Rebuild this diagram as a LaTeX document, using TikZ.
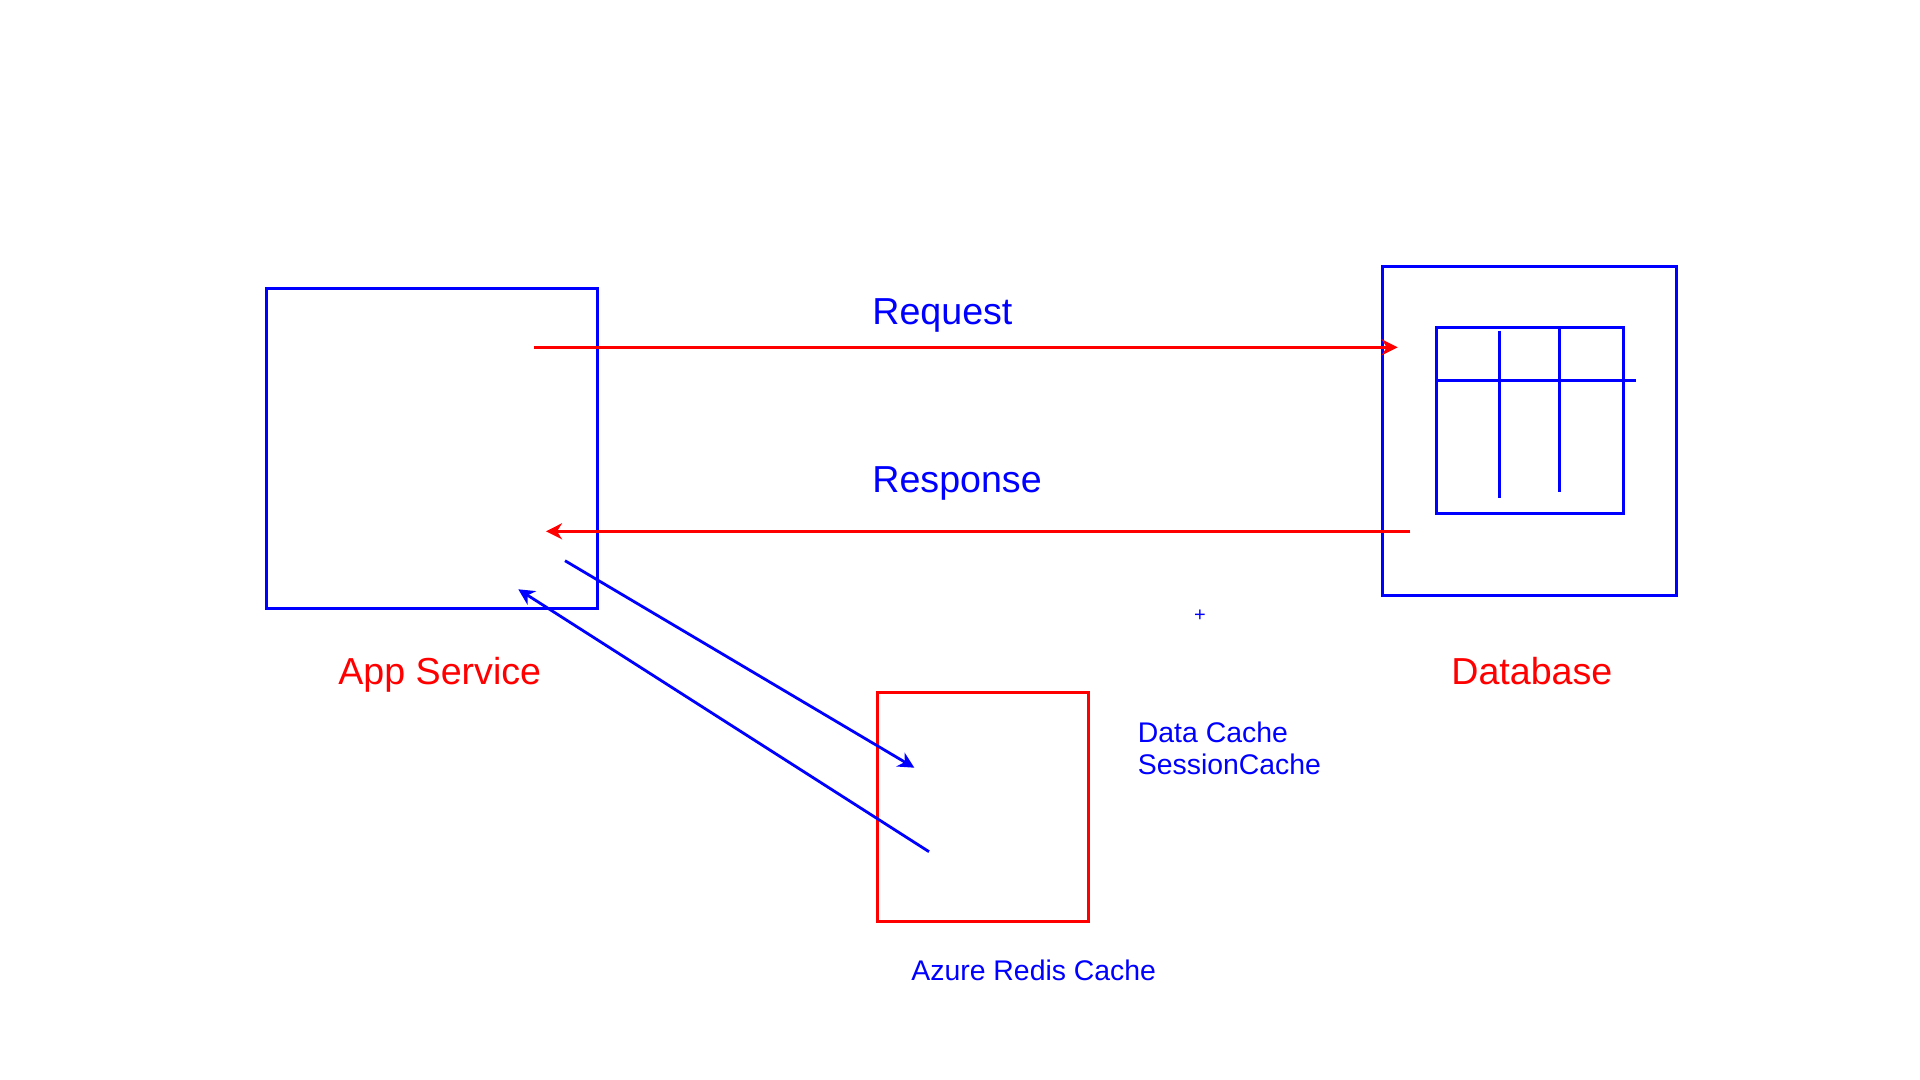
\documentclass[tikz,border=0pt]{standalone}
\usepackage{fontspec}
\setmainfont{Liberation Sans}
\usetikzlibrary{arrows.meta}
\begin{document}
\begin{tikzpicture}[
    x=0.5pt, y=-0.5pt,
    box/.style={draw=blue, line width=1.5pt, inner sep=0pt, outer sep=0pt, anchor=north west},
    cachebox/.style={box, draw=red},
    redlabel/.style={text=red, font=\fontsize{18.8}{23}\selectfont, inner sep=0pt, anchor=base west},
    bluelabel/.style={text=blue, font=\fontsize{18.8}{23}\selectfont, inner sep=0pt, anchor=base west},
    smalllabel/.style={text=blue, font=\fontsize{14.2}{16}\selectfont, inner sep=0pt, anchor=base west, align=left},
    grid line/.style={draw=blue, line width=1.5pt},
    flow/.style={draw=red, line width=1.4pt, -{Stealth[length=8pt, width=8pt, inset=2.5pt]}},
    cache flow/.style={draw=blue, line width=1.4pt, -{Stealth[length=8pt, width=8pt, inset=2.5pt]}}
    ]
    \useasboundingbox (0,0) rectangle (1920,1080);
    % boxes
    \node[box, minimum width=165.7pt, minimum height=159.7pt] (app) at (266,289) {};
    \node[box, minimum width=147pt, minimum height=164.3pt] (db) at (1382.7,266.7) {};
    \node[box, minimum width=93.3pt, minimum height=92.8pt] (table) at (1436.7,327.7) {};
    \node[cachebox, minimum width=105.4pt, minimum height=114.4pt] (redis) at (877.7,692.3) {};
    % table lines
    \coordinate (rowstart) at (1437,380.3);
    \coordinate (rowend) at (1636,380.3);
    \coordinate (cola) at (1499.3,330.7);
    \coordinate (colb) at (1499.3,498.3);
    \coordinate (colc) at (1559.3,329.5);
    \coordinate (cold) at (1559.3,492.3);
    \draw[grid line] (rowstart) -- (rowend);
    \draw[grid line] (cola) -- (colb);
    \draw[grid line] (colc) -- (cold);
    % arrows
    \coordinate (reqstart) at (534,347.3);
    \coordinate (reqend) at (1397.7,347.3);
    \coordinate (respstart) at (1410.3,531.3);
    \coordinate (respend) at (546,531.3);
    \coordinate (setstart) at (565,560.7);
    \coordinate (setend) at (914.3,767.7);
    \coordinate (getstart) at (929,851.7);
    \coordinate (getend) at (518.3,589.3);
    \draw[flow] (reqstart) -- (reqend);
    \draw[flow] (respstart) -- (respend);
    \draw[cache flow] (setstart) -- (setend);
    \draw[cache flow] (getstart) -- (getend);
    % labels
    \node[bluelabel] (request) at (872,325) {Request};
    \node[bluelabel] (response) at (872,492) {Response};
    \node[redlabel] (applabel) at (338,684.5) {App Service};
    \node[redlabel] (dblabel) at (1451,684.5) {Database};
    \node[smalllabel] (cachetypes) at (1137.5,774) {Data Cache\\SessionCache};
    \node[smalllabel] (redislabel) at (911,980) {Azure Redis Cache};
    \node[text=blue, font=\fontsize{10}{12}\selectfont, inner sep=0pt] (mark) at (1200,615.8) {+};
\end{tikzpicture}
\end{document}
